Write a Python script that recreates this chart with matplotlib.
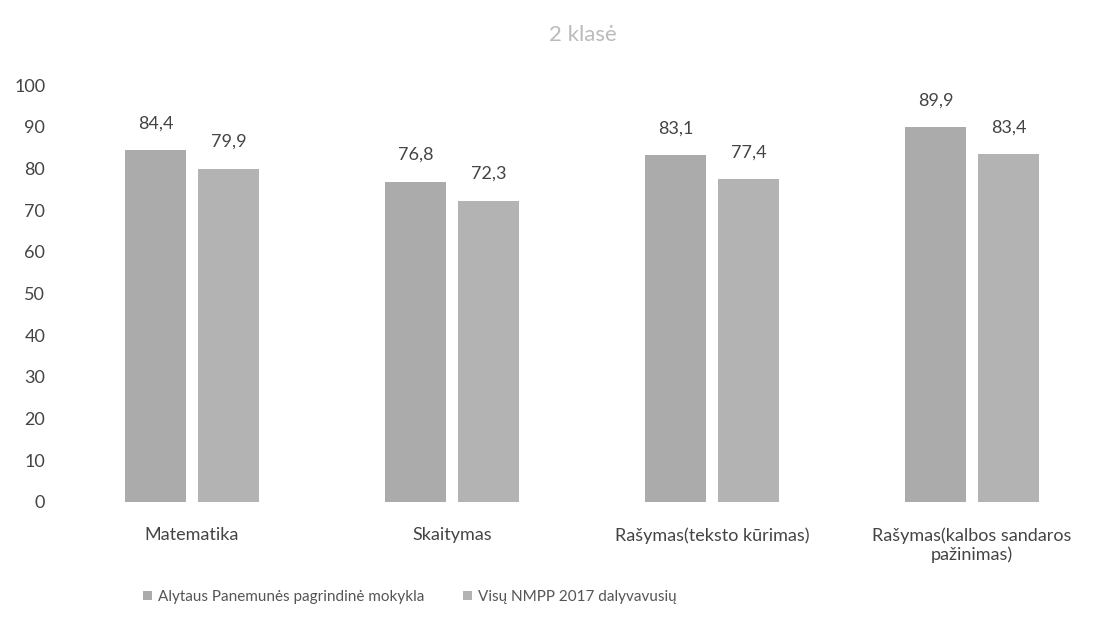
import matplotlib
matplotlib.use("Agg")
import matplotlib.pyplot as plt
import numpy as np

plt.rcParams['font.family'] = ['Lato', 'DejaVu Sans']

categories = ['Matematika', 'Skaitymas', 'Rašymas(teksto kūrimas)', 'Rašymas(kalbos sandaros\npažinimas)']
mokykla = [84.4, 76.8, 83.1, 89.9]
visu = [79.9, 72.3, 77.4, 83.4]
series_names = ['Alytaus Panemunės pagrindinė mokykla', 'Visų NMPP 2017 dalyvavusių']

fig = plt.figure(figsize=(10.96, 6.29), dpi=100)
ax = fig.add_axes([62/1096, 1-502/629, (1096-62)/1096, (502-85)/629])

x = np.arange(len(categories))
w = 0.235
b1 = ax.bar(x - 0.14, mokykla, w, color='#ababab', label=series_names[0])
b2 = ax.bar(x + 0.14, visu, w, color='#b3b3b3', label=series_names[1])

for bars in (b1, b2):
    for r in bars:
        ax.text(r.get_x() + r.get_width()/2, r.get_height() + 4.5,
                f"{r.get_height():.1f}".replace('.', ','),
                ha='center', va='bottom', fontsize=13, color='#444444')

ax.set_xlim(-0.5, -0.5 + 1034/260)
ax.set_ylim(0, 100)
ax.set_yticks(range(0, 101, 10))
ax.set_xticks(x)
ax.set_xticklabels(categories, fontsize=13, color='#444444')
ax.tick_params(axis='y', labelsize=13, labelcolor='#444444', length=0, pad=12)
ax.tick_params(axis='x', length=0, pad=18)
for s in ax.spines.values():
    s.set_visible(False)

fig.text(583/1096, 1-35/629, '2 klasė', ha='center', va='center', fontsize=16, color='#bbbbbb')
fig.legend(loc='center', bbox_to_anchor=(410/1096, 1-597/629), ncol=2, frameon=False,
           fontsize=11, handlelength=0.6, handleheight=0.6, columnspacing=2.5,
           handletextpad=0.4, labelcolor='#555555')

fig.savefig('out.png', dpi=100)
